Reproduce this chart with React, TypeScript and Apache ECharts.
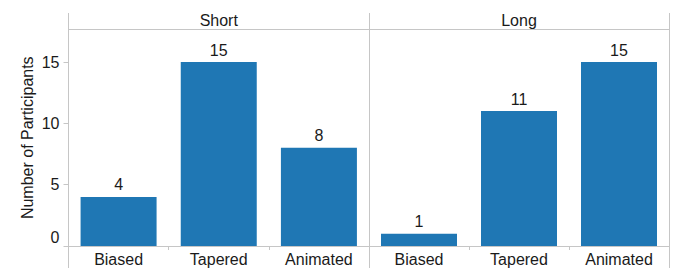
import React, { useEffect, useRef } from "react";
import * as echarts from "echarts";

const categories = ["Biased", "Tapered", "Animated"];
const facets = ["Short", "Long"];
const shortValues = [4, 15, 8];
const longValues = [1, 11, 15];
const yTicks = [0, 5, 10, 15];
const yMax = 17.65;
const yTitle = "Number of Participants";

const FONT = "'Liberation Sans', Arial, Helvetica, sans-serif";
const TEXT = "#1a1a1a";
const GRAY = "#c6c6c6";
const BAR = "#1f77b4";
const FS = 16;

export default function App() {
  const ref = useRef<HTMLDivElement>(null);
  useEffect(() => {
    if (!ref.current) return;
    const chart = echarts.init(ref.current, undefined, { renderer: "svg" });
    const grids = [
      { left: 68.5, top: 29.5, width: 300.5, height: 216.5 },
      { left: 369, top: 29.5, width: 300, height: 216.5 },
    ];
    const seriesData = [shortValues, longValues];
    const xAxes = grids.map((_, i) => ({
      type: "category" as const,
      gridIndex: i,
      data: categories,
      axisLine: { show: true, lineStyle: { color: GRAY, width: 1 } },
      axisTick: { show: true, length: 4, lineStyle: { color: GRAY } },
      axisLabel: { color: TEXT, fontSize: FS, fontFamily: FONT, margin: 5 },
    }));
    const yAxes = grids.map((_, i) => ({
      type: "value" as const,
      gridIndex: i,
      min: 0,
      max: yMax,
      interval: 5,
      splitLine: { show: false },
      axisLine: { show: false },
      axisTick: { show: i === 0, length: 5, lineStyle: { color: GRAY }, customValues: yTicks },
      axisLabel: {
        show: i === 0,
        color: TEXT,
        fontSize: FS,
        fontFamily: FONT,
        margin: 9,
        customValues: yTicks,
        formatter: (v: number) => (v === yTicks[0] ? `{z|${v}}` : `${v}`),
        rich: {
          z: {
            color: TEXT,
            fontSize: FS,
            fontFamily: FONT,
            padding: [0, 0, 18, 0],
          },
        },
      },
      name: i === 0 ? yTitle : "",
      nameLocation: "middle" as const,
      nameGap: 33,
      nameTextStyle: { color: TEXT, fontSize: FS, fontFamily: FONT },
    }));
    const series = grids.map((_, i) => ({
      type: "bar" as const,
      xAxisIndex: i,
      yAxisIndex: i,
      data: seriesData[i],
      barWidth: 76,
      itemStyle: { color: BAR },
      label: {
        show: true,
        position: "top" as const,
        distance: 4,
        color: TEXT,
        fontSize: FS,
        fontFamily: FONT,
      },
    }));
    const vLine = (x: number) => ({
      type: "line",
      shape: { x1: x, y1: 13, x2: x, y2: 268 },
      style: { stroke: GRAY, lineWidth: 1 },
    });
    const graphic: any[] = [
      vLine(68.5),
      vLine(369.5),
      vLine(669.5),
      {
        type: "line",
        shape: { x1: 68.5, y1: 29.5, x2: 669.5, y2: 29.5 },
        style: { stroke: GRAY, lineWidth: 1 },
      },
      ...facets.map((f, i) => ({
        type: "text",
        x: grids[i].left + grids[i].width / 2,
        y: 20,
        style: {
          text: f,
          fill: TEXT,
          font: `${FS}px ${FONT}`,
          textAlign: "center",
          textVerticalAlign: "middle",
        },
      })),
    ];
    chart.setOption({
      animation: false,
      grid: grids,
      xAxis: xAxes,
      yAxis: yAxes,
      series,
      graphic,
    });
    return () => chart.dispose();
  }, []);
  return (
    <div
      ref={ref}
      style={{ position: "absolute", left: 0, top: 0, width: 682, height: 268 }}
    />
  );
}
